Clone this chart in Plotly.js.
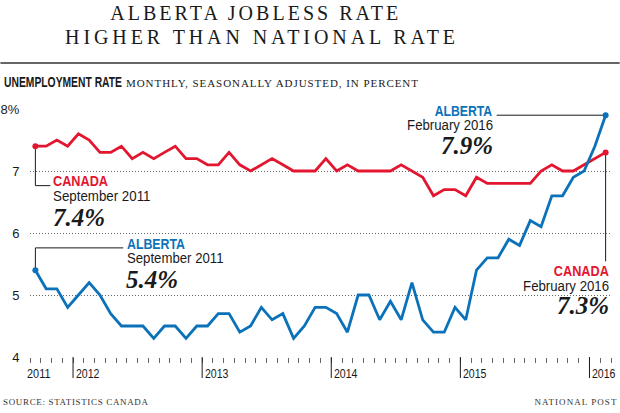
<!DOCTYPE html>
<html><head><meta charset="utf-8">
<script src="https://cdn.plot.ly/plotly-3.0.1.min.js"></script>
<style>html,body{margin:0;padding:0;background:#fff;} #chart{width:620px;height:413px;}</style>
</head><body><div id="chart"></div>
<script>
// ---- data (monthly, seasonally adjusted unemployment rate, %) ----
const months = [
  "2011-09","2011-10","2011-11","2011-12",
  "2012-01","2012-02","2012-03","2012-04","2012-05","2012-06","2012-07","2012-08","2012-09","2012-10","2012-11","2012-12",
  "2013-01","2013-02","2013-03","2013-04","2013-05","2013-06","2013-07","2013-08","2013-09","2013-10","2013-11","2013-12",
  "2014-01","2014-02","2014-03","2014-04","2014-05","2014-06","2014-07","2014-08","2014-09","2014-10","2014-11","2014-12",
  "2015-01","2015-02","2015-03","2015-04","2015-05","2015-06","2015-07","2015-08","2015-09","2015-10","2015-11","2015-12",
  "2016-01","2016-02"
];
const canada = [
  7.4,7.4,7.5,7.4,
  7.6,7.5,7.3,7.3,7.4,7.2,7.3,7.2,7.3,7.4,7.2,7.2,
  7.1,7.1,7.3,7.1,7.0,7.1,7.2,7.1,7.0,7.0,7.0,7.2,
  7.0,7.1,7.0,7.0,7.0,7.0,7.1,7.0,6.9,6.6,6.7,6.7,
  6.6,6.9,6.8,6.8,6.8,6.8,6.8,7.0,7.1,7.0,7.0,7.1,
  7.2,7.3
];
const alberta = [
  5.4,5.1,5.1,4.8,
  5.0,5.2,5.0,4.7,4.5,4.5,4.5,4.3,4.5,4.5,4.3,4.5,
  4.5,4.7,4.7,4.4,4.5,4.8,4.6,4.7,4.3,4.5,4.8,4.8,
  4.7,4.4,5.0,5.0,4.6,4.9,4.6,5.2,4.6,4.4,4.4,4.8,
  4.6,5.4,5.6,5.6,5.9,5.8,6.2,6.1,6.6,6.6,6.9,7.0,
  7.4,7.9
];
const years = ["2011","2012","2013","2014","2015","2016"];
const yTickVals = [4,5,6,7,8];
const yTickText = ["4","5","6","7","8%"];

// ---- layout geometry helpers ----
const W=620,H=413,L=29.6,R=8.7,T=109.3,B=55.5;
const PW=W-L-R, PH=H-T-B;
const pxX = X => (X-L)/PW;
const pxY = Y => (H-B-Y)/PH;

const SANS = "Liberation Sans, Arial, sans-serif";
const SERIF = "Liberation Serif, DejaVu Serif, serif";
const RED = "#e3162f", BLUE = "#0b72b9", INK = "#1a1a1a";

const xIdx = months.map((m,i)=>i);
const last = months.length-1;
const boundaries = months.map((m,i)=>i-0.5).concat([months.length-0.5]);
const yearStart = years.map(y => months.findIndex(m => m.slice(0,4)===y) - 0.5);

const traces = [
  {x:xIdx, y:canada, mode:'lines', line:{color:RED,width:2.8}, name:'Canada', hoverinfo:'skip'},
  {x:xIdx, y:alberta, mode:'lines', line:{color:BLUE,width:2.8}, name:'Alberta', hoverinfo:'skip'},
  {x:[xIdx[0],xIdx[last]], y:[canada[0],canada[last]], mode:'markers', marker:{color:RED,size:6}, cliponaxis:false, hoverinfo:'skip'},
  {x:[xIdx[0],xIdx[last]], y:[alberta[0],alberta[last]], mode:'markers', marker:{color:BLUE,size:6}, cliponaxis:false, hoverinfo:'skip'}
];

// fit: [target width px, lengthAdjust mode]
const fit = {};
const annotations = [];
function txt(text, X, Y, xanchor, font, w, mode){
  if(w) fit[annotations.length] = [w, mode||'spacingAndGlyphs'];
  annotations.push({text, xref:'paper', yref:'paper', x:pxX(X), y:pxY(Y),
    xanchor, yanchor:'middle', showarrow:false, font, borderpad:0,
    align:xanchor==='right'?'right':(xanchor==='left'?'left':'center')});
}
const fLabelRed = {family:SANS, size:14.5, color:RED, weight:700};
const fLabelBlue = {family:SANS, size:14.5, color:BLUE, weight:700};
const fDate = {family:SANS, size:14, color:INK};
const fBig = {family:SERIF, size:25, color:INK, weight:700, style:'italic'};
const pct = v => v.toFixed(1)+'%';

txt("ALBERTA JOBLESS RATE", 254, 13.6, 'center', {family:SERIF,size:20,color:INK}, 288, 'spacing');
txt("HIGHER THAN NATIONAL RATE", 260, 37, 'center', {family:SERIF,size:20,color:INK}, 390, 'spacing');
txt("UNEMPLOYMENT RATE", 3, 82, 'left', {family:SANS,size:14.5,color:INK,weight:700}, 118);
txt("MONTHLY, SEASONALLY ADJUSTED, IN PERCENT", 125, 83.5, 'left', {family:SERIF,size:11,color:INK}, 292, 'spacing');
txt("SOURCE: STATISTICS CANADA", 2, 402.5, 'left', {family:SERIF,size:9,color:'#333'}, 145, 'spacing');
txt("NATIONAL POST", 618, 402.5, 'right', {family:SERIF,size:9,color:'#333'}, 82, 'spacing');
// Canada start
txt("CANADA", 52, 181.5, 'left', fLabelRed, 55);
txt("September 2011", 52, 196.5, 'left', fDate, 97.5);
txt(pct(canada[0]), 52, 218, 'left', fBig);
// Alberta start
txt("ALBERTA", 126, 244.7, 'left', fLabelBlue, 58);
txt("September 2011", 126, 258.5, 'left', fDate, 96.5);
txt(pct(alberta[0]), 125, 279.5, 'left', fBig);
// Alberta end
txt("ALBERTA", 494.5, 111.3, 'right', fLabelBlue, 57.5);
txt("February 2016", 494.5, 125, 'right', fDate, 86);
txt(pct(alberta[last]), 494, 145.5, 'right', fBig);
// Canada end
txt("CANADA", 610, 271.7, 'right', fLabelRed, 55);
txt("February 2016", 610, 286.5, 'right', fDate, 86);
txt(pct(canada[last]), 610, 306, 'right', fBig);

years.forEach((y,i)=>{
  fit[annotations.length] = [23.5, 'spacingAndGlyphs'];
  annotations.push({text:y, xref:'x', yref:'paper', x:yearStart[i], y:pxY(374.3), xanchor:'left', yanchor:'middle', align:'left',
    xshift: i===0 ? -4 : 2, borderpad:0, showarrow:false, font:{family:SANS,size:12.5,color:INK}});
});

const shapes = [
  {type:'line', xref:'paper', yref:'paper', x0:pxX(0), x1:pxX(620), y0:pxY(63.3), y1:pxY(63.3), line:{color:'#333',width:1.5}},
  // connectors from the endpoint values
  {type:'path', xref:'x', yref:'y', layer:'below', line:{color:INK,width:1},
   path:`M ${xIdx[0]},${canada[0]} L ${xIdx[0]},6.764 L 1.39,6.764`},
  {type:'path', xref:'x', yref:'y', layer:'below', line:{color:INK,width:1},
   path:`M ${xIdx[0]},${alberta[0]} L ${xIdx[0]},5.76 L 8.17,5.76`},
  {type:'path', xref:'x', yref:'y', layer:'below', line:{color:INK,width:1},
   path:`M ${xIdx[last]},${alberta[last]} L 42.87,${alberta[last]}`},
  {type:'path', xref:'x', yref:'y', layer:'below', line:{color:INK,width:1},
   path:`M ${xIdx[last]},${canada[last]} L ${xIdx[last]},5.544`}
];
yearStart.forEach((b,i)=>{
  if(i===0) return;
  shapes.push({type:'line', xref:'x', yref:'paper', x0:b, x1:b, y0:0, y1:pxY(378.5), line:{color:INK,width:1}});
});

const layout = {
  width:W, height:H, autosize:false,
  margin:{l:L, r:R, t:T, b:B, pad:0},
  paper_bgcolor:'#fff', plot_bgcolor:'#fff',
  showlegend:false,
  xaxis:{range:[-0.5,last+0.5], tickmode:'array', tickvals:boundaries, ticktext:boundaries.map(()=>''),
    showticklabels:false, ticks:'outside', ticklen:5, tickcolor:'#666', tickwidth:1,
    showgrid:false, zeroline:false, showline:false, fixedrange:true},
  yaxis:{range:[4,8], tickmode:'array', tickvals:yTickVals, ticktext:yTickText,
    ticks:'outside', ticklen:7, tickcolor:'rgba(0,0,0,0)',
    showgrid:true, gridcolor:'#666', griddash:'1px,2px', gridwidth:1,
    zeroline:false, showline:false, fixedrange:true,
    tickfont:{family:SANS,size:13,color:INK}},
  annotations, shapes
};

Plotly.newPlot('chart', traces, layout, {displayModeBar:false, staticPlot:true}).then(gd=>{
  Object.keys(fit).forEach(i=>{
    const el = gd.querySelector('.annotation[data-index="'+i+'"] .annotation-text');
    if(el){
      el.setAttribute('textLength', fit[i][0]);
      el.setAttribute('lengthAdjust', fit[i][1]);
    }
  });
});
</script>
</body></html>
